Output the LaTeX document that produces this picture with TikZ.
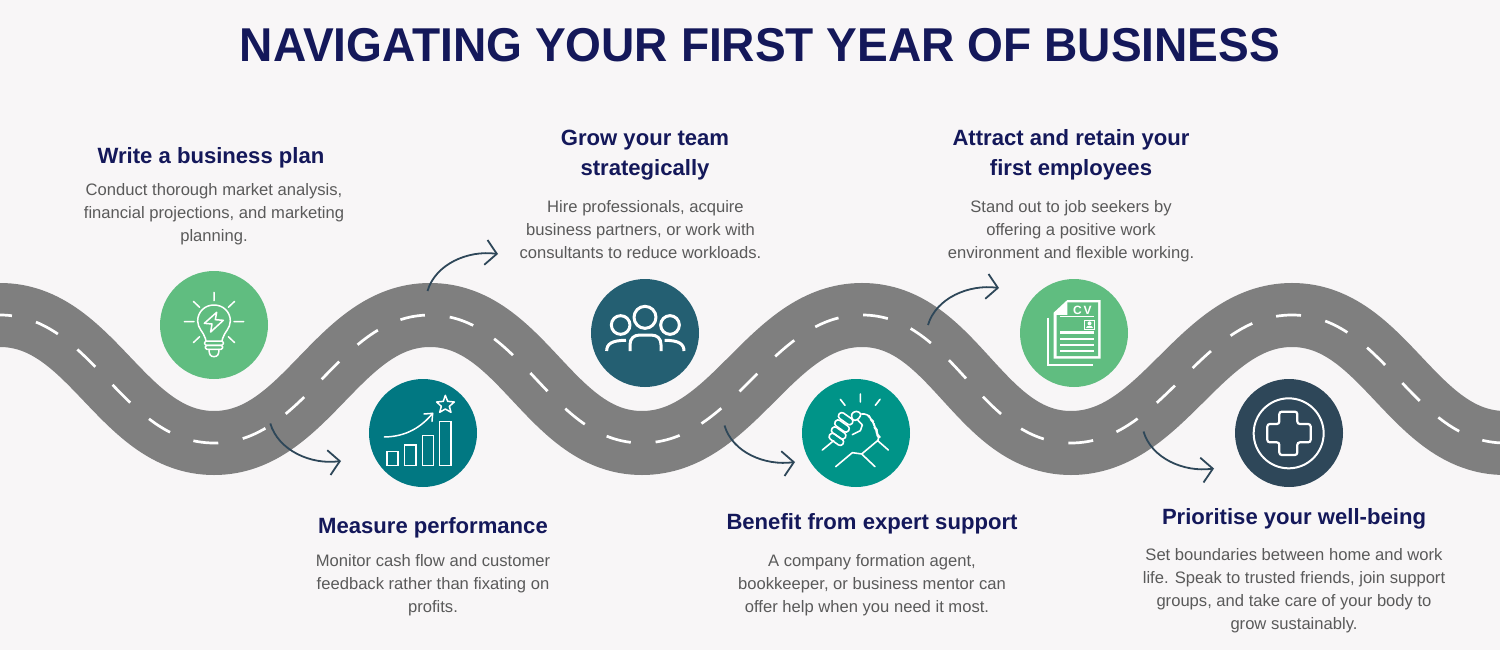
\documentclass[tikz,border=0pt]{standalone}
\usepackage{fontspec}
\setmainfont{Liberation Sans}
\newfontfamily\titlefont{Liberation Sans}[FakeStretch=0.97]
\usetikzlibrary{arrows.meta}
\definecolor{bgc}{HTML}{F8F6F7}
\definecolor{navy}{HTML}{14185A}
\definecolor{bodyc}{HTML}{5A5A5A}
\definecolor{roadc}{HTML}{7F7F7F}
\definecolor{arrowc}{HTML}{2E4759}
\definecolor{cgreen}{HTML}{60BD80}
\definecolor{cteal}{HTML}{017882}
\definecolor{cblue}{HTML}{245F72}
\definecolor{csea}{HTML}{009488}
\definecolor{cdark}{HTML}{2E4759}
\tikzset{
 titletext/.style={font=\fontsize{47.5}{54}\titlefont\bfseries,text=navy,inner sep=0pt},
 headtext/.style={font=\fontsize{22.1}{30}\selectfont\bfseries,text=navy,align=center,inner sep=0pt},
 bodytext/.style={font=\fontsize{16.6}{23}\selectfont,text=bodyc,align=center,inner sep=0pt},
 badge/.style={circle,minimum size=108pt,inner sep=0pt,fill=#1},
 turn/.style={draw=arrowc,line width=1.8pt,-{Straight Barb[length=11pt,width=25pt]}},
 iconline/.style={draw=white,line width=1.5pt,line cap=round,line join=round},
 iconthick/.style={draw=white,line width=3pt,line join=round},
 zoomed/.style 2 args={shift={(#1,#2)},x=.33333pt,y=-.33333pt},
}
\def\roadpath{(-60,315) -- (0,315) .. controls (92,315) and (122,443) .. (214,443)
 .. controls (306,443) and (338,315) .. (430,315)
 .. controls (522,315) and (550,443) .. (642,443)
 .. controls (734,443) and (770,315) .. (862,315)
 .. controls (954,315) and (979,443) .. (1071,443)
 .. controls (1163,443) and (1200,315) .. (1292,315)
 .. controls (1384,315) and (1413,443) .. (1505,443) -- (1560,443)}
\begin{document}
\begin{tikzpicture}[x=1pt,y=-1pt]
\fill[bgc] (0,0) rectangle (1500,650);
\useasboundingbox (0,0) rectangle (1500,650);
\begin{scope}
\clip (0,0) rectangle (1500,650);
\draw[roadc,line width=64pt] \roadpath;
\draw[white,line width=2.7pt,dash pattern=on 25pt off 24.9pt,dash phase=2.9pt] \roadpath;
\end{scope}

\node[titletext] (title) at (760,44.8) {NAVIGATING YOUR FIRST YEAR OF BUSINESS};

\node[headtext] (h1) at (211,158) {Write a business plan};
\node[bodytext] (b1) at (214,214) {Conduct thorough market analysis,\\financial projections, and marketing\\planning.};
\node[headtext] (h2) at (645,155) {Grow your team\\strategically};
\node[bodytext] (b2) at (640.5,229.7) {\hspace*{10pt}Hire professionals, acquire\\business partners, or work with\\consultants to reduce workloads.};
\node[headtext] (h3) at (1071,155) {Attract and retain your\\first employees};
\node[bodytext] (b3) at (1071,231) {Stand out to job seekers by\\offering a positive work\\environment and flexible working.};
\node[headtext] (h4) at (433,528) {Measure performance};
\node[bodytext] (b4) at (433,585) {Monitor cash flow and customer\\feedback rather than fixating on\\profits.};
\node[headtext] (h5) at (872,524) {Benefit from expert support};
\node[bodytext] (b5) at (872,585) {A company formation agent,\\bookkeeper, or business mentor can\\\hspace*{-10pt}offer help when you need it most.};
\node[headtext] (h6) at (1294,519) {Prioritise your well-being};
\node[bodytext] (b6) at (1294,591) {Set boundaries between home and work\\life. Speak to trusted friends, join support\\groups, and take care of your body to\\grow sustainably.};

\node[badge=cgreen] (c1) at (214,325) {};
\node[badge=cteal] (c2) at (423,433) {};
\node[badge=cblue] (c3) at (645,333) {};
\node[badge=csea] (c4) at (856,433) {};
\node[badge=cgreen] (c5) at (1074,333) {};
\node[badge=cdark] (c6) at (1289,433) {};

% turning arrows
\coordinate (a1s) at (270.3,423.5); \coordinate (a1e) at (341,461);
\coordinate (a2s) at (724.5,425.5); \coordinate (a2e) at (795,462);
\coordinate (a3s) at (1143.5,431.5); \coordinate (a3e) at (1214,468.5);
\coordinate (a4s) at (427.5,291); \coordinate (a4e) at (498,254);
\coordinate (a5s) at (928,325); \coordinate (a5e) at (999,288);
\draw[turn] (a1s) .. controls +(8,27) and +(-30,4) .. (a1e);
\draw[turn] (a2s) .. controls +(8,27) and +(-30,4) .. (a2e);
\draw[turn] (a3s) .. controls +(8,27) and +(-30,4) .. (a3e);
\draw[turn] (a4s) .. controls +(8,-27) and +(-30,-4) .. (a4e);
\draw[turn] (a5s) .. controls +(8,-27) and +(-30,-4) .. (a5e);

% bulb icon
\begin{scope}[zoomed={150}{260},iconline]
\draw (192,97)--(192,122) (103,185)--(132,185) (252,185)--(281,185)
 (130,124)--(149,142) (254,124)--(235,142) (130,248)--(149,230) (254,248)--(235,230);
\draw (168,243) -- (166,235) .. controls (160,215) and (143,205) .. (143,183)
 .. controls (143,155) and (165,135) .. (192,135) .. controls (219,135) and (241,155) .. (241,183)
 .. controls (241,205) and (224,215) .. (218,235) -- (216,243);
\draw[rounded corners=1.5pt] (164,243) rectangle (220,256);
\draw[rounded corners=1.5pt] (166,256) rectangle (218,268);
\draw (177,268) .. controls (177,284) and (182,290) .. (192,290) .. controls (202,290) and (207,284) .. (207,268);
\draw (200,157)--(163,190)--(186,192)--(182,216)--(220,181)--(196,179)--cycle;
\end{scope}

% chart icon
\begin{scope}[zoomed={150}{260},iconline]
\draw[line cap=butt,line join=miter] (711,574) rectangle (744,616) (764,555) rectangle (798,616)
 (817,527) rectangle (851,616) (869,485) rectangle (903,616);
\draw (703,531) .. controls (770,530) and (815,500) .. (848,460);
\draw (822,462)--(848,460)--(846,484);
\draw (886,406)--(893,424)--(913,426)--(898,439)--(903,457)--(886,447)--(869,457)--(874,439)--(860,426)--(880,424)--cycle;
\end{scope}

% team icon
\begin{scope}[zoomed={580}{270},iconthick]
\draw (195,142) circle[radius=33] (122,165) circle[radius=28] (270,165) circle[radius=28];
\draw (150,243) -- (150,224) .. controls (150,205) and (162,195) .. (180,195) -- (212,195) .. controls (232,195) and (243,205) .. (243,224) -- (243,243);
\draw (80,243) .. controls (80,222) and (95,211) .. (138,211);
\draw (312,243) .. controls (312,222) and (297,211) .. (254,211);
\end{scope}

% handshake icon
\begin{scope}[zoomed={815}{390},iconline,line width=1.6pt]
\draw (76,28)--(90,46) (136,12)--(136,36) (195,28)--(181,46);
\draw (22,180)--(56,152) (220,180)--(188,152) (62,230)--(112,188)--(140,192)--(180,230) (140,192)--(190,150);
\foreach \cx/\cy in {92/86,81/108,71/129,64/148}
  \draw[rounded corners=3pt,rotate around={-35:(\cx,\cy)}] ({\cx-24},{\cy-10}) rectangle ({\cx+24},{\cy+10});
\draw[rounded corners=2.5pt] (108,72)--(124,62)--(140,72)--(128,90)--(113,92)--cycle;
\draw[rounded corners=4pt] (140,72)--(160,72)--(166,88)--(176,95)--(178,112)--(186,120)--(185,135)--(196,142)--(190,150);
\draw (128,90)--(142,105)--(136,122)--(112,134);
\end{scope}

% CV icon
\begin{scope}[zoomed={1010}{270}]
\fill[white] (172,90)--(272,90)--(272,266)--(131,266)--(131,128)--cycle;
\fill[cgreen] (172,97)--(264,97)--(264,258)--(140,258)--(140,135)--(172,135)--cycle;
\draw[white,line width=1.8pt] (113,143)--(113,284)--(250,284);
\node[font=\fontsize{12}{12}\selectfont\bfseries,text=white,inner sep=0pt] (cvt) at (217,120) {C\,V};
\draw[white,line width=1pt] (150,139)--(253,139);
\draw[white,line width=.9pt] (224,150) rectangle (253,177);
\fill[white] (238.5,160) circle[radius=6];
\fill[white] (228,174) .. controls (228,165) and (249,165) .. (249,174) -- cycle;
\draw[white,line width=2.6pt] (150,187)--(252,187) (150,207)--(252,207) (150,225)--(252,225) (150,243)--(252,243);
\end{scope}

% cross icon
\begin{scope}[zoomed={1010}{270}]
\draw[white,line width=2pt] (836,490) circle[radius=105];
\draw[white,line width=2.2pt,rounded corners=2.5pt] (808,425)--(862,425)--(862,462)--(902,462)--(902,517)--(862,517)--(862,555)--(808,555)--(808,517)--(772,517)--(772,462)--(808,462)--cycle;
\end{scope}
\end{tikzpicture}
\end{document}
